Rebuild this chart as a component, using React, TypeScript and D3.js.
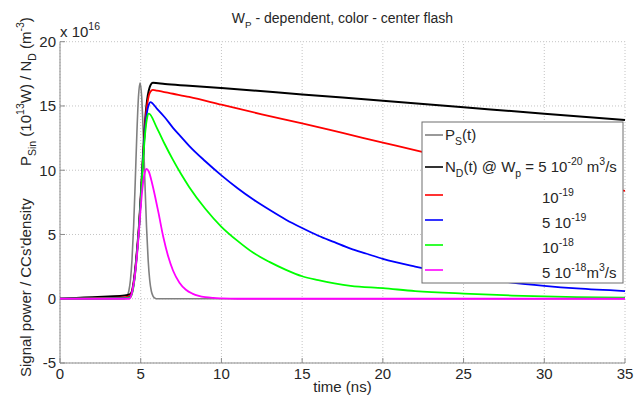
import React from 'react'
import * as d3 from 'd3'

// time axis (ns) and value axis (x 10^16)
const xTicks = [0, 5, 10, 15, 20, 25, 30, 35]
const yTicks = [-5, 0, 5, 10, 15, 20]

// P_S(t) - signal pulse
const psT = [0, 3.96, 4.06, 4.16, 4.26, 4.36, 4.46, 4.56, 4.66, 4.76, 4.86, 4.96, 5.06, 5.16, 5.26, 5.36, 5.46, 5.56, 5.66, 5.76, 5.86, 5.96, 35]
const psV = [0, 0, 0.06, 0.21, 0.58, 1.42, 3.03, 5.6, 9.07, 12.8, 15.7, 16.8, 15.7, 12.8, 9.07, 5.6, 3.03, 1.42, 0.58, 0.21, 0.06, 0, 0]

// N_D(t), Wp = 5e-20
const ndT = [0, 1, 2, 3, 4, 4.35, 4.55, 4.7, 4.8, 4.9, 5.0, 5.1, 5.2, 5.3, 5.4, 5.5, 5.6, 5.75, 6.5, 8, 10, 15, 20, 25, 30, 35]
const ndV = [0, 0.06, 0.12, 0.18, 0.25, 0.35, 1.2, 2.8, 4.2, 5.8, 7.9, 10.2, 12.4, 14.3, 15.5, 16.2, 16.6, 16.8, 16.7, 16.58, 16.4, 15.9, 15.4, 14.9, 14.4, 13.9]

// Wp = 1e-19
const redT = [0, 4, 4.35, 4.55, 4.7, 4.8, 4.9, 5.0, 5.1, 5.2, 5.3, 5.4, 5.5, 5.6, 5.75, 6, 7, 8, 10, 12.5, 15, 17.5, 20, 22.5, 25, 27.5, 30, 32.5, 35]
const redV = [0, 0.1, 0.25, 1.1, 2.7, 4.1, 5.7, 7.8, 10.1, 12.2, 14.0, 15.1, 15.8, 16.1, 16.25, 16.2, 15.95, 15.7, 15.1, 14.35, 13.65, 12.9, 12.15, 11.4, 10.7, 10.05, 9.45, 8.9, 8.4]

// Wp = 5e-19
const blueT = [0, 4, 4.35, 4.55, 4.7, 4.8, 4.9, 5.0, 5.1, 5.2, 5.3, 5.4, 5.5, 5.6, 6, 6.5, 7, 7.5, 8, 9, 10, 11, 12, 13, 14, 15, 16, 17, 18, 19, 20, 22, 24, 26, 28, 30, 32, 35]
const blueV = [0, 0.05, 0.15, 1.0, 2.6, 4.0, 5.6, 7.7, 10.0, 12.0, 13.6, 14.6, 15.1, 15.3, 14.8, 14.1, 13.3, 12.6, 11.9, 10.7, 9.6, 8.6, 7.7, 6.9, 6.15, 5.5, 4.9, 4.4, 3.9, 3.5, 3.1, 2.5, 2.0, 1.6, 1.25, 1.0, 0.8, 0.6]

// Wp = 1e-18
const greenT = [0, 4, 4.35, 4.55, 4.7, 4.8, 4.9, 5.0, 5.1, 5.2, 5.3, 5.4, 5.5, 6, 6.5, 7, 7.5, 8, 9, 10, 11, 12, 13, 14, 15, 16, 17, 18, 20, 22, 25, 28, 32, 35]
const greenV = [0, 0.02, 0.1, 0.9, 2.5, 3.9, 5.5, 7.6, 9.8, 11.7, 13.2, 14.1, 14.4, 13.3, 12.0, 10.8, 9.7, 8.7, 7.0, 5.6, 4.5, 3.55, 2.85, 2.25, 1.75, 1.45, 1.2, 1.0, 0.82, 0.6, 0.4, 0.25, 0.12, 0.08]

// Wp = 5e-18
const magT = [0, 4.3, 4.5, 4.65, 4.8, 4.9, 5.0, 5.1, 5.2, 5.3, 5.35, 5.5, 5.7, 5.9, 6.1, 6.4, 6.7, 7.0, 7.4, 7.8, 8.2, 8.6, 9, 9.5, 10, 11, 35]
const magV = [0, 0, 0.7, 1.9, 3.8, 5.4, 7.1, 8.5, 9.5, 10.0, 10.1, 9.9, 9.0, 7.9, 6.7, 4.8, 3.3, 2.2, 1.25, 0.7, 0.4, 0.22, 0.12, 0.06, 0.03, 0, 0]

const series = [
  { t: psT, v: psV, color: '#808080', w: 1.6 },
  { t: ndT, v: ndV, color: '#000000', w: 2 },
  { t: redT, v: redV, color: '#ff0000', w: 1.8 },
  { t: blueT, v: blueV, color: '#0000ff', w: 1.8 },
  { t: greenT, v: greenV, color: '#00ff00', w: 1.8 },
  { t: magT, v: magV, color: '#ff00ff', w: 1.8 },
]

const font = '"Liberation Sans", Arial, sans-serif'
const textColor = '#262626'

// parts: [text, 'n' | 'sub' | 'sup']
function Rich({ x, y, parts, size = 15, anchor = 'start', ...rest }: any) {
  let cur = 0
  return (
    <text x={x} y={y} fontSize={size} textAnchor={anchor} fontFamily={font} fill={textColor} {...rest}>
      {parts.map(([s, k]: [string, string], i: number) => {
        const target = k === 'sub' ? size * 0.35 : k === 'sup' ? -size * 0.45 : 0
        const dy = target - cur
        cur = target
        return (
          <tspan key={i} dy={dy} fontSize={k === 'n' ? size : size * 0.7} style={{ whiteSpace: 'pre' }}>
            {s}
          </tspan>
        )
      })}
    </text>
  )
}

export default function App() {
  const W = 634, H = 401
  const x = d3.scaleLinear().domain([0, 35]).range([60, 625])
  const y = d3.scaleLinear().domain([-5, 20]).range([363, 41.7])

  const line = d3
    .line<[number, number]>()
    .x(d => x(d[0]))
    .y(d => y(d[1]))
    .curve(d3.curveMonotoneX)

  const legendX = 422, legendY = 122, legendW = 201, legendH = 161
  const legendRows = [135, 167, 195, 220, 245, 270]

  return (
    <svg width={W} height={H} style={{ position: 'absolute', left: 0, top: 0, background: '#fff' }}>
      {/* grid */}
      {xTicks.map(t => (
        <line key={'gx' + t} x1={x(t)} x2={x(t)} y1={y(-5)} y2={y(20)} stroke="#c4c4c4" strokeDasharray="1 2" />
      ))}
      {yTicks.map(t => (
        <line key={'gy' + t} x1={x(0)} x2={x(35)} y1={y(t)} y2={y(t)} stroke="#c4c4c4" strokeDasharray="1 2" />
      ))}

      {/* axes */}
      <line x1={x(0)} x2={x(35)} y1={y(-5)} y2={y(-5)} stroke="#8c8c8c" />
      <line x1={x(0)} x2={x(0)} y1={y(-5)} y2={y(20)} stroke="#8c8c8c" />
      {xTicks.map(t => (
        <line key={'tx' + t} x1={x(t)} x2={x(t)} y1={y(-5)} y2={y(-5) - 5} stroke="#8c8c8c" />
      ))}
      {yTicks.map(t => (
        <line key={'ty' + t} x1={x(0)} x2={x(0) + 5} y1={y(t)} y2={y(t)} stroke="#8c8c8c" />
      ))}

      {xTicks.map(t => (
        <text key={'lx' + t} x={x(t)} y={379} fontSize={15} textAnchor="middle" fontFamily={font} fill={textColor}>
          {t}
        </text>
      ))}
      {yTicks.map(t => (
        <text key={'ly' + t} x={56} y={y(t) + 5.3} fontSize={15} textAnchor="end" fontFamily={font} fill={textColor}>
          {t}
        </text>
      ))}

      <Rich x={60} y={37} parts={[['x 10', 'n'], ['16', 'sup']]} />

      {/* curves */}
      {series.map((s, i) => (
        <path
          key={'s' + i}
          d={line(s.t.map((t, j) => [t, s.v[j]] as [number, number])) || ''}
          fill="none"
          stroke={s.color}
          strokeWidth={s.w}
        />
      ))}

      {/* title & labels */}
      <Rich x={342.5} y={23} anchor="middle" size={14} parts={[['W', 'n'], ['P', 'sub'], [' - dependent, color - center flash', 'n']]} />
      <text x={342.5} y={392} fontSize={15} textAnchor="middle" fontFamily={font} fill={textColor}>
        time (ns)
      </text>
      <g transform="translate(31,377) rotate(-90)">
        <text x={0} y={0} fontSize={15} fontFamily={font} fill={textColor}>
          Signal power / CCs'density
        </text>
      </g>
      <g transform="translate(31,166) rotate(-90)">
        <Rich
          x={0}
          y={0}
          parts={[['P', 'n'], ['Sin', 'sub'], [' (10', 'n'], ['13', 'sup'], ['W) / N', 'n'], ['D', 'sub'], [' (m', 'n'], ['-3', 'sup'], [')', 'n']]}
        />
      </g>

      {/* legend */}
      <rect x={legendX} y={legendY} width={legendW} height={legendH} fill="#fff" stroke="#6e6e6e" />
      {series.map((s, i) => (
        <line key={'ll' + i} x1={425} x2={443} y1={legendRows[i]} y2={legendRows[i]} stroke={s.color} strokeWidth={1.6} />
      ))}
      <Rich x={445} y={legendRows[0] + 5} parts={[['P', 'n'], ['S', 'sub'], ['(t)', 'n']]} />
      <Rich
        x={445}
        y={legendRows[1] + 5}
        parts={[['N', 'n'], ['D', 'sub'], ['(t) @ W', 'n'], ['p', 'sub'], [' = 5 10', 'n'], ['-20', 'sup'], [' m', 'n'], ['3', 'sup'], ['/s', 'n']]}
      />
      <Rich x={542} y={legendRows[2] + 8} parts={[['10', 'n'], ['-19', 'sup']]} />
      <Rich x={542} y={legendRows[3] + 8} parts={[['5 10', 'n'], ['-19', 'sup']]} />
      <Rich x={542} y={legendRows[4] + 8} parts={[['10', 'n'], ['-18', 'sup']]} />
      <Rich x={542} y={legendRows[5] + 8} parts={[['5 10', 'n'], ['-18', 'sup'], ['m', 'n'], ['3', 'sup'], ['/s', 'n']]} />
    </svg>
  )
}
